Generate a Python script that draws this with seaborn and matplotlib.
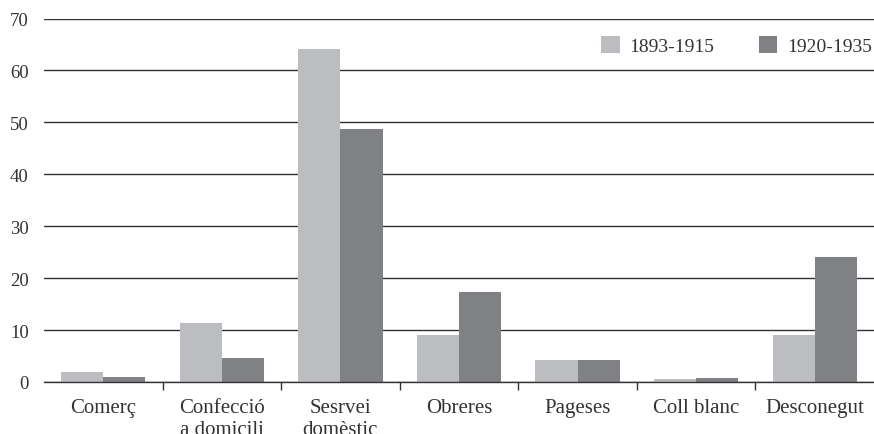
import matplotlib
matplotlib.use("Agg")
import matplotlib.pyplot as plt
import seaborn as sns
import pandas as pd
from matplotlib.patches import Patch

categories = ["Comerç", "Confecció\na domicili", "Sesrvei\ndomèstic", "Obreres",
              "Pageses", "Coll blanc", "Desconegut"]
series_names = ["1893-1915", "1920-1935"]
values_1893_1915 = [1.9, 11.3, 64.2, 9.0, 4.2, 0.6, 9.0]
values_1920_1935 = [1.0, 4.6, 48.7, 17.3, 4.2, 0.8, 24.0]
colors = ["#bcbdc0", "#808184"]
y_ticks = [0, 10, 20, 30, 40, 50, 60, 70]

df = pd.DataFrame({
    "cat": categories * 2,
    "serie": [series_names[0]] * len(categories) + [series_names[1]] * len(categories),
    "val": values_1893_1915 + values_1920_1935,
})

sns.set_theme(style="white")
plt.rcParams["font.family"] = ["Liberation Serif", "DejaVu Serif"]

fig = plt.figure(figsize=(8.74, 4.35), dpi=100)
ax = fig.add_axes([44 / 874, 1 - 383 / 435, 1 - 44 / 874, (383 - 19.5) / 435])

ax.set_axisbelow(True)
ax.yaxis.grid(True, color="#333333", linewidth=1.0)
sns.barplot(data=df, x="cat", y="val", hue="serie", order=categories,
            hue_order=series_names, palette=colors, width=0.71,
            saturation=1, edgecolor="none", linewidth=0, ax=ax, legend=False)

ax.set_xlim(-0.5, len(categories) - 0.5)
ax.set_ylim(0, 70)
ax.set_yticks(y_ticks)
ax.set_xlabel("")
ax.set_ylabel("")
for s in ["top", "right", "left"]:
    ax.spines[s].set_visible(False)
ax.spines["bottom"].set_color("#333333")
ax.spines["bottom"].set_linewidth(1.0)

ax.tick_params(axis="y", length=0, pad=11, labelsize=13.5, labelcolor="#333333")
ax.tick_params(axis="x", which="major", length=0, pad=11.5, labelsize=15, labelcolor="#333333")
for lbl in ax.get_xticklabels():
    lbl.set_linespacing(1.2)
ax.set_xticks([i + 0.5 for i in range(len(categories) - 1)], minor=True)
ax.tick_params(axis="x", which="minor", direction="out", length=6, width=1.0,
               color="#333333", bottom=True)

handles = [Patch(facecolor=c, edgecolor="none", label=n) for c, n in zip(colors, series_names)]
leg = ax.legend(handles=handles, ncol=2, loc="center right", bbox_to_anchor=(1.0, 64.8 / 70),
                frameon=False, fontsize=14, handlelength=0.95, handleheight=0.95,
                handletextpad=0.5, columnspacing=2.3, borderaxespad=0.0, borderpad=0.1)
for t in leg.get_texts():
    t.set_color("#333333")

fig.savefig("out.png", dpi=100)
